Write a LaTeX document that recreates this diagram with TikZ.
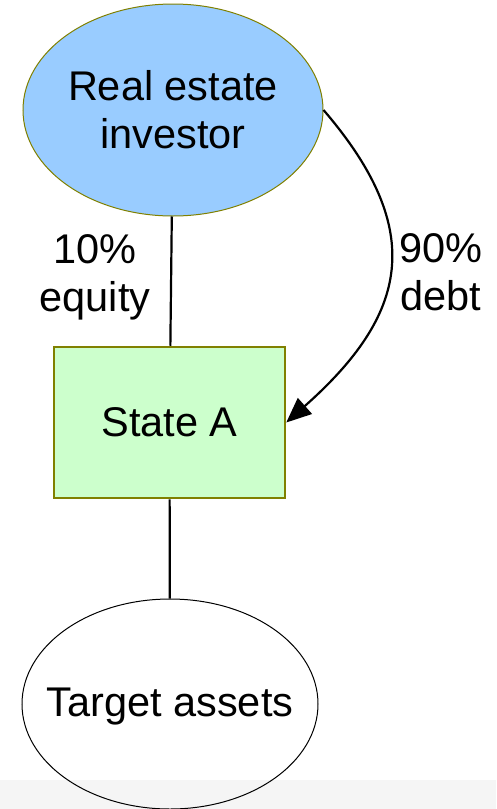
\documentclass[tikz,border=0pt]{standalone}
\usepackage{fontspec}
\setmainfont{Liberation Sans}
\usetikzlibrary{shapes.geometric,arrows.meta}
\definecolor{invblue}{HTML}{99CCFF}
\definecolor{stategreen}{HTML}{CCFFCC}
\definecolor{olivebd}{HTML}{808000}
\definecolor{bandgrey}{HTML}{F5F5F5}
\tikzset{
  txt/.style={font=\fontsize{41.5}{48}\selectfont, align=center, inner sep=0pt},
  investor/.style={txt, ellipse, draw=olivebd, line width=1pt, fill=invblue, minimum width=300pt, minimum height=212pt},
  statebox/.style={txt, rectangle, draw=olivebd, line width=2.5pt, fill=stategreen, minimum width=231pt, minimum height=151pt},
  asset/.style={txt, ellipse, draw=black, line width=1pt, inner xsep=-30pt, text depth=4pt, minimum width=296pt, minimum height=210pt},
  conn/.style={line width=2.2pt, black},
  lbl/.style={txt}
}
\begin{document}
\begin{tikzpicture}[x=1pt,y=-1pt]
\useasboundingbox (0,0) rectangle (496,809);
\fill[bandgrey] (0,780) rectangle (496,809);
\node[investor] (inv) at (173,110) {Real estate\\investor};
\node[statebox] (state) at (169.5,422.5) {State A};
\node[asset] (target) at (170,704) {Target assets};
\node[lbl] (eq) at (95,277) {10\%\\equity};
\node[lbl] (db) at (441,272) {90\%\\debt};
\draw[conn] (inv) -- (state);
\draw[conn] (state) -- (target);
\draw[conn, -{Triangle[length=25pt,width=21pt]}] (inv.east) .. controls (428,231.6) and (407,315.4) .. (state.east);
\end{tikzpicture}
\end{document}
